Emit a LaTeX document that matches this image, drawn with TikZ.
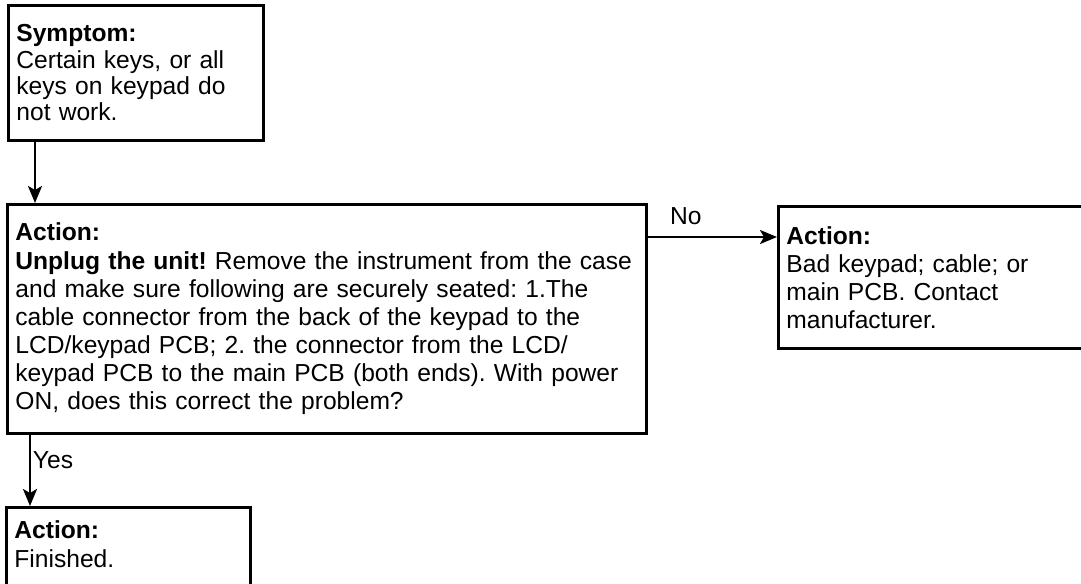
\documentclass[tikz,border=0pt]{standalone}
\usepackage{fontspec}
\setmainfont{Liberation Sans}
\usetikzlibrary{positioning, arrows.meta, calc}
\frenchspacing

\begin{document}
\begin{tikzpicture}[
    box/.style={draw, line width=1.6pt, anchor=north west, align=left,
                inner xsep=0.16cm, inner ysep=0pt,
                font=\fontsize{14}{16}\selectfont},
    arr/.style={line width=1.4pt, -{Stealth[length=0.34cm, width=0.28cm, inset=0.08cm]}},
    lbl/.style={font=\fontsize{14}{16}\selectfont, inner sep=1pt}
  ]
  % ── page frame ───────────────────────────────────────────────────────────
  \useasboundingbox (0,0) rectangle (21.62,-11.66);
  \clip (0,0) rectangle (21.62,-11.66);
  % ── boxes ────────────────────────────────────────────────────────────────
  \node[box, text width=4.78cm, minimum height=2.70cm,
        font=\fontsize{14}{15}\selectfont] (sym) at (0.14,-0.08)
    {\textbf{Symptom:}\\Certain keys, or all\\keys on keypad do\\not work.};
  \node[box, text width=12.46cm, minimum height=4.58cm] (act) at (0.12,-4.06)
    {\textbf{Action:}\\
     \textbf{Unplug the unit!} Remove the instrument from the case\\
     and make sure following are securely seated: 1.The\\
     cable connector from the back of the keypad to the\\
     LCD/keypad PCB; 2. the connector from the LCD/\\
     keypad PCB to the main PCB (both ends). With power\\
     ON, does this correct the problem?};
  \node[box, text width=6.08cm, minimum height=2.84cm] (bad) at (15.54,-4.10)
    {\textbf{Action:}\\Bad keypad; cable; or\\main PCB. Contact\\manufacturer.};
  \node[box, text width=4.56cm, minimum height=2.20cm] (fin) at (0.10,-10.12)
    {\textbf{Action:}\\Finished.\\\strut};
  % ── connectors ───────────────────────────────────────────────────────────
  \coordinate (c1) at (0.70,0);
  \coordinate (c2) at (0.60,0);
  \coordinate (c3) at (0,-4.74);
  \draw[arr] (c1 |- sym.south) -- (c1 |- act.north);
  \draw[arr] (c2 |- act.south) --
    node[lbl, pos=0.35, anchor=west] (yes) {Yes} (c2 |- fin.north);
  \draw[arr] (c3 -| act.east) --
    node[lbl, pos=0.15, anchor=base west, yshift=0.26cm] (no) {No} (c3 -| bad.west);
\end{tikzpicture}
\end{document}
